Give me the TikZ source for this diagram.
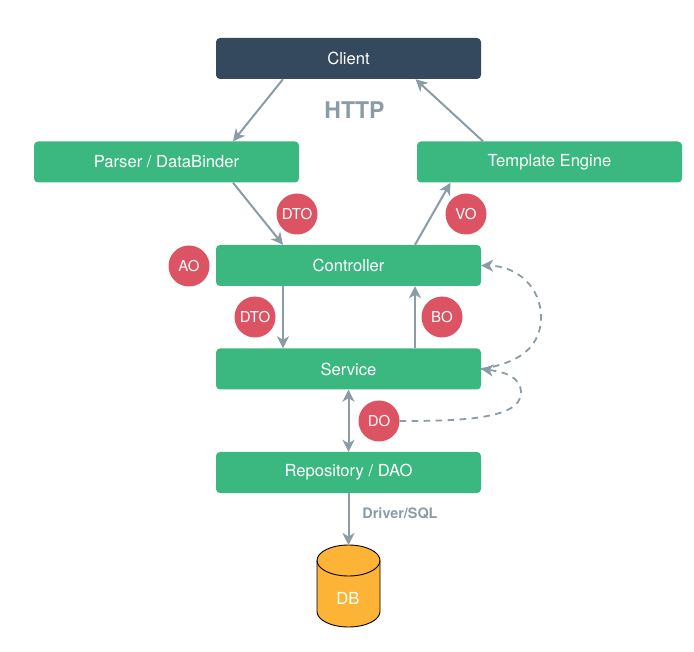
\documentclass[tikz,border=0pt]{standalone}
\usepackage{fontspec}
\setmainfont{TeX Gyre Heros}
\usetikzlibrary{arrows.meta}
\definecolor{layergreen}{HTML}{3BB880}
\definecolor{clientblue}{HTML}{34495E}
\definecolor{objred}{HTML}{DC5363}
\definecolor{dbyellow}{HTML}{FDB336}
\definecolor{linegray}{HTML}{8B9CA7}
\tikzset{
  >={Stealth[length=12pt,width=12pt,inset=3.5pt]},
  box/.style={rectangle,rounded corners=4pt,fill=layergreen,text=white,
    minimum width=265pt,minimum height=41pt,font=\fontsize{16.6}{20}\selectfont},
  obj/.style={circle,fill=objred,text=white,minimum size=41pt,inner sep=0pt,
    font=\fontsize{15}{18}\selectfont},
  conn/.style={->,draw=linegray,line width=2pt},
  dash conn/.style={conn,line width=1.8pt,dash pattern=on 6.5pt off 5.5pt},
  note/.style={text=linegray}
}
\begin{document}
\begin{tikzpicture}[x=1pt,y=-1pt]
  \useasboundingbox (0,0) rectangle (694,652);
  % layers
  \node[box,fill=clientblue] (client) at (348.5,58.5) {Client};
  \node[box] (parser) at (166.5,162) {Parser / DataBinder};
  \node[box] (template) at (549.5,162) {Template Engine};
  \node[box] (controller) at (348.5,265.5) {Controller};
  \node[box] (service) at (348.5,369) {Service};
  \node[box] (repo) at (348.5,472.5) {Repository / DAO};
  % database
  \draw[fill=dbyellow,line width=.9pt] (317,560.5) -- (317,611.5)
    arc[start angle=180,end angle=0,x radius=31.5,y radius=15.5] -- (380,560.5)
    arc[start angle=0,end angle=-180,x radius=31.5,y radius=15.5] -- cycle;
  \draw[line width=.9pt] (317,560.5)
    arc[start angle=180,end angle=0,x radius=31.5,y radius=15.5];
  \node[text=white,font=\fontsize{16.6}{20}\selectfont] (db) at (348,598) {DB};
  \coordinate (dbtop) at (348.5,545);
  % objects
  \node[obj] (dtoup) at (297,214) {DTO};
  \node[obj] (vo) at (466,214) {VO};
  \node[obj] (ao) at (189,266) {AO};
  \node[obj] (dtodown) at (255,317) {DTO};
  \node[obj] (bo) at (442,317) {BO};
  \node[obj] (do) at (379,421) {DO};
  % labels
  \node[note,font=\fontsize{23}{27}\selectfont\bfseries] (http) at (354.5,110) {HTTP};
  \node[note,font=\fontsize{14.4}{17}\selectfont\bfseries] (driver) at (400,513) {Driver/SQL};
  % connectors
  \draw[conn] ([xshift=-65.5pt]client.south) -- ([xshift=66.5pt]parser.north);
  \draw[conn] ([xshift=-66.5pt]template.north) -- ([xshift=67pt]client.south);
  \draw[conn] ([xshift=66.5pt]parser.south) -- ([xshift=-65.5pt]controller.north);
  \draw[conn] ([xshift=66.5pt]controller.north) -- ([xshift=-99pt]template.south);
  \draw[conn] ([xshift=-65.5pt]controller.south) -- ([xshift=-65.5pt]service.north);
  \draw[conn] ([xshift=66.5pt]service.north) -- ([xshift=66.5pt]controller.south);
  \draw[conn,<->] (service.south) -- (repo.north);
  \draw[conn] (repo.south) -- (dbtop);
  % dashed returns
  \draw[dash conn] (service.east) .. controls (526,362) and (541,342) .. (541,317)
    .. controls (541,288) and (518,266) .. (controller.east);
  \draw[dash conn] (do.east) .. controls (455,421) and (521,420) .. (521,393)
    .. controls (521,377) and (505,372) .. (service.east);
\end{tikzpicture}
\end{document}
